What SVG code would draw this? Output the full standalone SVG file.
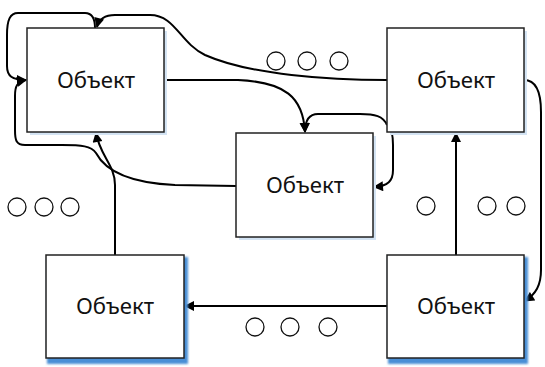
<svg xmlns="http://www.w3.org/2000/svg" width="545" height="367" viewBox="0 0 545 367">
<style>
.box{fill:#fff;stroke:#222;stroke-width:1.5}
.sh1{fill:#d3e3f3}
.sh2{fill:#4a8fd6}
.lbl{font-family:"Noto Sans","Open Sans","Liberation Sans",sans-serif;font-size:21px;fill:#111;text-anchor:middle}
.c{fill:none;stroke:#000;stroke-width:2}
.dot{fill:none;stroke:#111;stroke-width:1.3}
</style>
<defs>
<marker id="ah" viewBox="0 0 10 10" refX="9" refY="5" markerWidth="11" markerHeight="10" markerUnits="userSpaceOnUse" orient="auto">
<path d="M0,0 L10,5 L0,10 z" fill="#000"/>
</marker>
<filter id="blur" x="-10%" y="-10%" width="120%" height="120%"><feGaussianBlur stdDeviation="1.2"/></filter>
</defs>
<g id="connectors">
<path class="c" d="M164,80 L238,80 C285,82 303,97 305,132" marker-end="url(#ah)"/>
<path class="c" d="M387,80 C330,80 250,75 205,55 C180,43 175,15 150,15 L115,15 C105,15 99,19 97,27" marker-end="url(#ah)"/>
<path class="c" d="M95,28 C95,18 92,13 85,13 L18,13 C10,13 7,20 7,35 L7,66 C7,76 12,80 26,80" marker-end="url(#ah)"/>
<path class="c" d="M236,186 L175,185 C130,183 106,172 96,153 C91,146 82,145 62,145 L25,145 C16,145 15,140 15,130 L15,96 C15,86 17,82 26,80" marker-end="url(#ah)"/>
<path class="c" d="M115,255 L115,185 C115,165 100,156 96,133" marker-end="url(#ah)"/>
<path class="c" d="M387,125 C383,116 375,114 360,114 L318,114 C309,114 305,120 305,132" marker-end="url(#ah)"/>
<path class="c" d="M388,124 C392,129 393,135 393,145 L393,170 C393,181 388,186 374,187" marker-end="url(#ah)"/>
<path class="c" d="M456,255 L456,133" marker-end="url(#ah)"/>
<path class="c" d="M524,80 C535,80 541,90 541,112 L541,270 C541,285 536,294 525,301" marker-end="url(#ah)"/>
<path class="c" d="M387,306 L185,306" marker-end="url(#ah)"/>
</g>
<g id="n1"><rect class="sh1" x="30" y="31" width="137" height="104"/><rect class="box" x="27" y="28" width="137" height="104"/><text class="lbl" x="96" y="88" textLength="78" lengthAdjust="spacingAndGlyphs">Объект</text></g>
<g id="n2"><rect class="sh1" x="390" y="31" width="137" height="104"/><rect class="box" x="387" y="28" width="137" height="104"/><text class="lbl" x="456" y="88" textLength="78" lengthAdjust="spacingAndGlyphs">Объект</text></g>
<g id="n3"><rect class="sh1" x="239" y="136" width="137" height="104"/><rect class="box" x="236" y="133" width="137" height="104"/><text class="lbl" x="305" y="193" textLength="78" lengthAdjust="spacingAndGlyphs">Объект</text></g>
<g id="n4"><rect class="sh2" x="47" y="257" width="141" height="107" filter="url(#blur)"/><rect class="box" x="46" y="255" width="138" height="103"/><text class="lbl" x="115" y="314" textLength="78" lengthAdjust="spacingAndGlyphs">Объект</text></g>
<g id="n5"><rect class="sh2" x="388" y="257" width="140" height="107" filter="url(#blur)"/><rect class="box" x="387" y="255" width="137" height="103"/><text class="lbl" x="456" y="314" textLength="78" lengthAdjust="spacingAndGlyphs">Объект</text></g>
<g id="dots">
<circle class="dot" cx="276" cy="61" r="9"/><circle class="dot" cx="307" cy="61" r="9"/><circle class="dot" cx="339" cy="61" r="9"/>
<circle class="dot" cx="17" cy="207" r="9"/><circle class="dot" cx="44" cy="207" r="9"/><circle class="dot" cx="70" cy="207" r="9"/>
<circle class="dot" cx="426" cy="206" r="9"/><circle class="dot" cx="487" cy="206" r="9"/><circle class="dot" cx="516" cy="206" r="9"/>
<circle class="dot" cx="255" cy="327" r="9"/><circle class="dot" cx="290" cy="327" r="9"/><circle class="dot" cx="328" cy="327" r="9"/>
</g>
</svg>
